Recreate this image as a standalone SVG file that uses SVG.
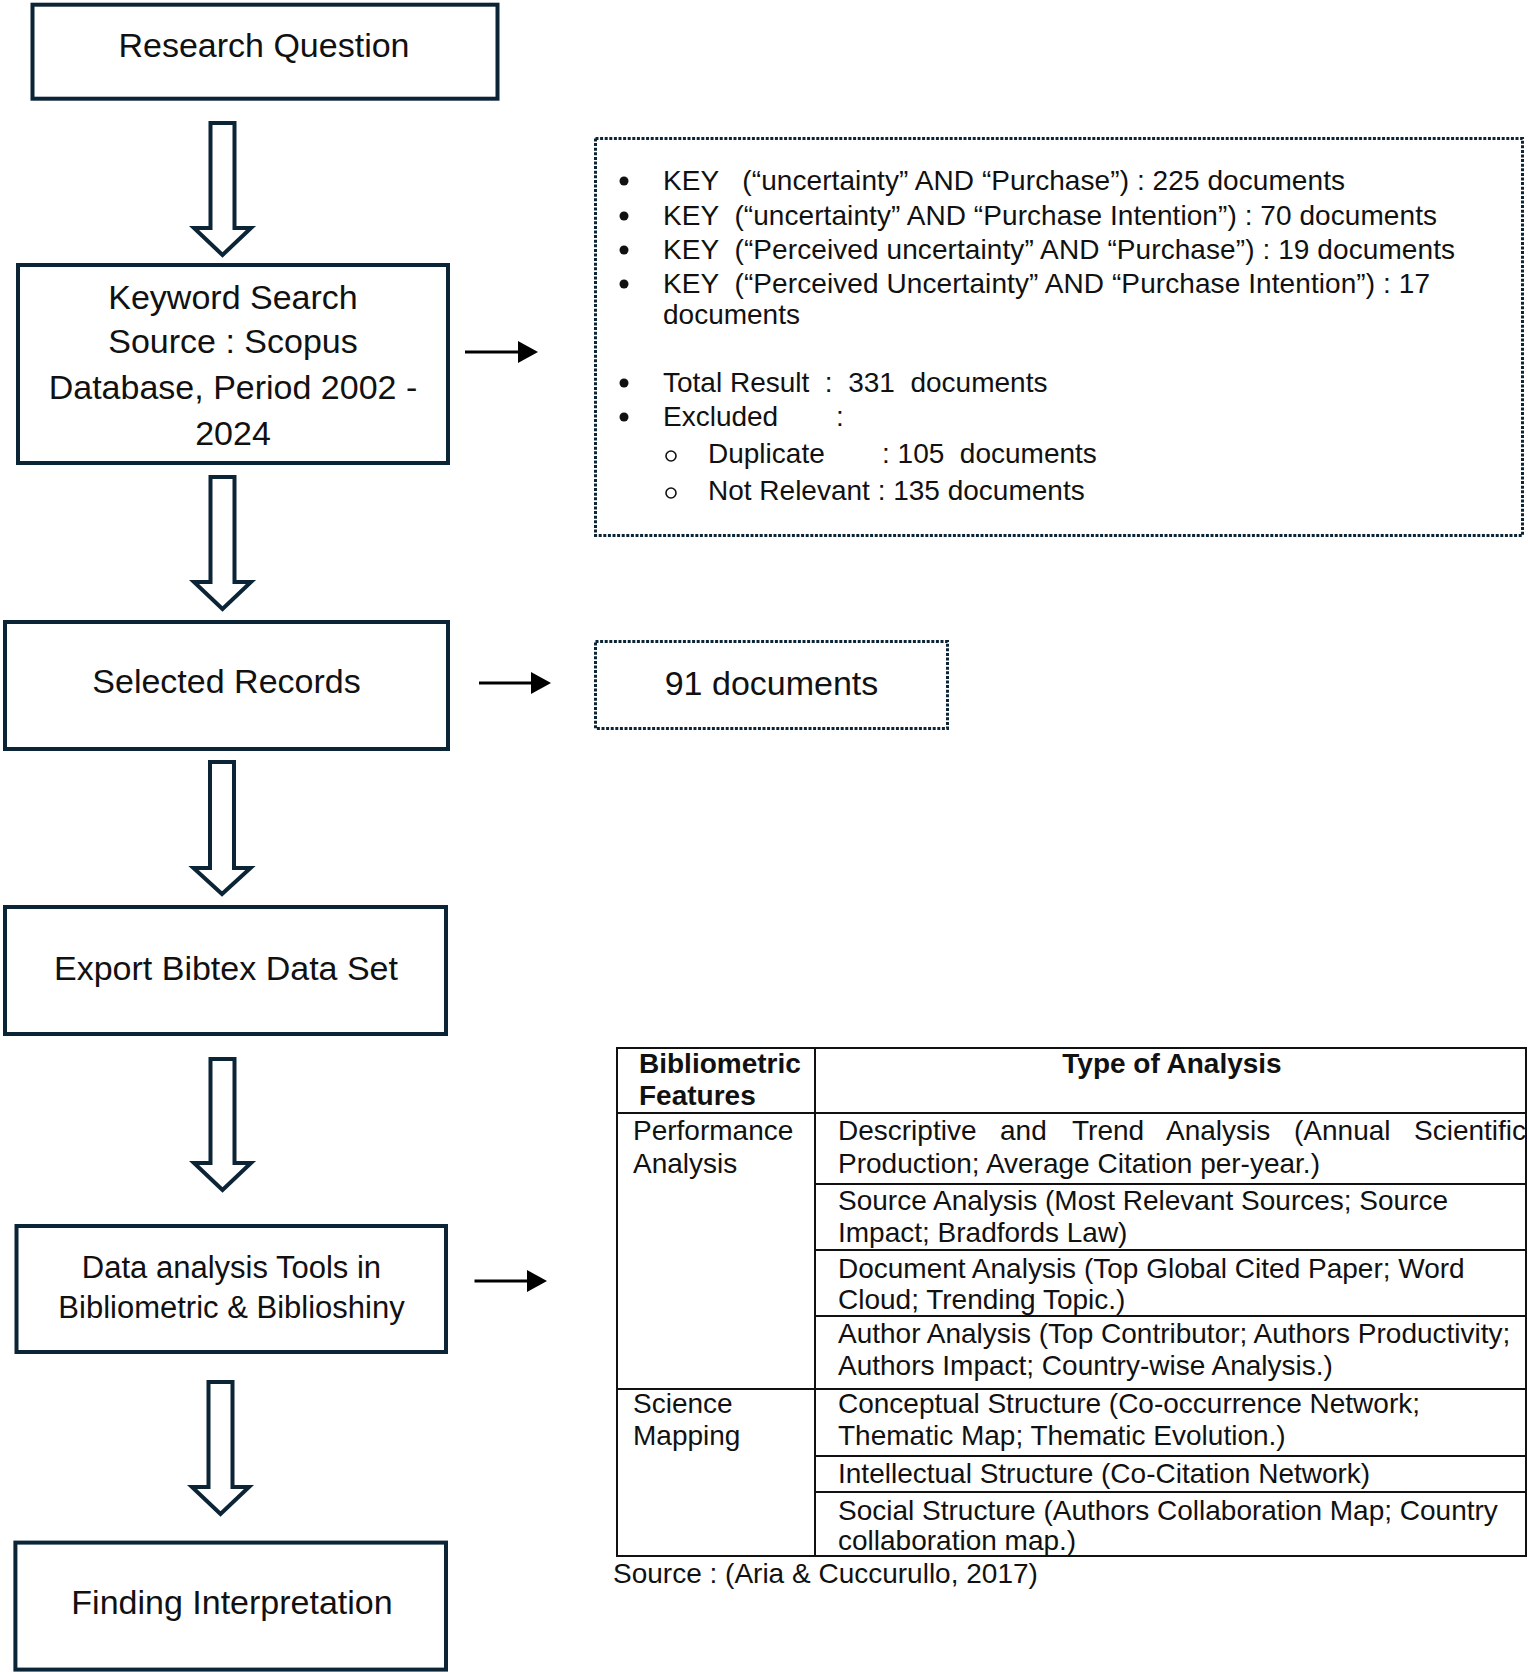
<svg xmlns="http://www.w3.org/2000/svg" width="1528" height="1672" viewBox="0 0 1528 1672">
<style>
.box{fill:#fff;stroke:#0b2536;stroke-width:4}
.dbox{fill:#fff;stroke:#0b2536;stroke-width:3;stroke-dasharray:3 1.6}
.blk{fill:#fff;stroke:#0b2536;stroke-width:4;stroke-linejoin:miter}
.ln{stroke:#000;stroke-width:3}
.hd{fill:#000}
.t{font-family:"Liberation Sans",Arial,sans-serif;fill:#111}
.big{font-size:34px;text-anchor:middle}
.s28{font-size:28px;white-space:pre}
.b{font-weight:bold}
.tl{stroke:#111;stroke-width:2;fill:none}
</style>
<rect width="1528" height="1672" fill="#fff"/>
<g id="connectors">
<path class="blk" d="M210.5,123 H234.5 V228 H251 L222.5,255 L194,228 H210.5 Z"/>
<path class="blk" d="M210.5,477 H234.5 V582 H251 L222.5,609 L194,582 H210.5 Z"/>
<path class="blk" d="M210,762 H234 V868 H250.5 L222,894 L193.5,868 H210 Z"/>
<path class="blk" d="M210.5,1059 H234.5 V1163 H251 L222.5,1190 L194,1163 H210.5 Z"/>
<path class="blk" d="M208.5,1382 H232.5 V1487 H249 L220.5,1514 L192,1487 H208.5 Z"/>
<line class="ln" x1="465" y1="352" x2="522" y2="352"/>
<polygon class="hd" points="518,341 538,352 518,363"/>
<line class="ln" x1="479" y1="683" x2="535" y2="683"/>
<polygon class="hd" points="531,672 551,683 531,694"/>
<line class="ln" x1="474.5" y1="1281" x2="531" y2="1281"/>
<polygon class="hd" points="527,1270 547,1281 527,1292"/>
</g>
<g id="research-question">
<rect class="box" x="32.5" y="4.7" width="465" height="94"/>
<text class="t big" x="264" y="57">Research Question</text>
</g>
<g id="keyword-search">
<rect class="box" x="18" y="265" width="430" height="198"/>
<text class="t big" x="233" y="309">Keyword Search</text>
<text class="t big" x="233" y="353">Source : Scopus</text>
<text class="t big" x="233" y="399">Database, Period 2002 -</text>
<text class="t big" x="233" y="445">2024</text>
</g>
<g id="search-details">
<rect class="dbox" x="595.5" y="138.5" width="927" height="397"/>
<circle cx="624" cy="181" r="4.5" fill="#111"/>
<circle cx="624" cy="216" r="4.5" fill="#111"/>
<circle cx="624" cy="250" r="4.5" fill="#111"/>
<circle cx="624" cy="284" r="4.5" fill="#111"/>
<circle cx="624" cy="383" r="4.5" fill="#111"/>
<circle cx="624" cy="417" r="4.5" fill="#111"/>
<circle cx="671" cy="456" r="5" fill="none" stroke="#111" stroke-width="1.6"/>
<circle cx="671" cy="493" r="5" fill="none" stroke="#111" stroke-width="1.6"/>
<text class="t s28" x="663" y="190" textLength="682">KEY   (“uncertainty” AND “Purchase”) : 225 documents</text>
<text class="t s28" x="663" y="225" textLength="774">KEY  (“uncertainty” AND “Purchase Intention”) : 70 documents</text>
<text class="t s28" x="663" y="259" textLength="792">KEY  (“Perceived uncertainty” AND “Purchase”) : 19 documents</text>
<text class="t s28" x="663" y="293" textLength="767">KEY  (“Perceived Uncertainty” AND “Purchase Intention”) : 17</text>
<text class="t s28" x="663" y="324">documents</text>
<text class="t s28" x="663" y="392">Total Result  :  331  documents</text>
<text class="t s28" x="663" y="426">Excluded<tspan x="836">:</tspan></text>
<text class="t s28" x="708" y="463">Duplicate<tspan x="882">: 105  documents</tspan></text>
<text class="t s28" x="708" y="500">Not Relevant : 135 documents</text>
</g>
<g id="selected-records">
<rect class="box" x="5" y="622" width="443" height="127"/>
<text class="t big" x="226.5" y="693">Selected Records</text>
</g>
<g id="documents-91">
<rect class="dbox" x="595.5" y="641.5" width="352" height="87"/>
<text class="t big" x="771.5" y="695">91 documents</text>
</g>
<g id="export-bibtex">
<rect class="box" x="5" y="907" width="441" height="127"/>
<text class="t big" x="226" y="980">Export Bibtex Data Set</text>
</g>
<g id="data-analysis-tools">
<rect class="box" x="16.5" y="1226" width="429.5" height="126"/>
<text class="t" x="231.5" y="1278" font-size="31" text-anchor="middle">Data analysis Tools in</text>
<text class="t" x="231.5" y="1318" font-size="31" text-anchor="middle">Bibliometric &amp; Biblioshiny</text>
</g>
<g id="finding-interpretation">
<rect class="box" x="15.4" y="1542.6" width="430.6" height="127"/>
<text class="t big" x="232" y="1614">Finding Interpretation</text>
</g>
<g id="analysis-table">
<rect class="tl" x="617" y="1048" width="909" height="508"/>
<line class="tl" x1="815" y1="1048" x2="815" y2="1556"/>
<line class="tl" x1="617" y1="1113" x2="1526" y2="1113"/>
<line class="tl" x1="815" y1="1184" x2="1526" y2="1184"/>
<line class="tl" x1="815" y1="1250" x2="1526" y2="1250"/>
<line class="tl" x1="815" y1="1316" x2="1526" y2="1316"/>
<line class="tl" x1="617" y1="1389" x2="1526" y2="1389"/>
<line class="tl" x1="815" y1="1456" x2="1526" y2="1456"/>
<line class="tl" x1="815" y1="1492" x2="1526" y2="1492"/>
<text class="t s28 b" x="639" y="1073">Bibliometric</text>
<text class="t s28 b" x="639" y="1105">Features</text>
<text class="t s28 b" x="1172" y="1073" text-anchor="middle">Type of Analysis</text>
<text class="t s28" x="633" y="1140">Performance</text>
<text class="t s28" x="633" y="1173">Analysis</text>
<text class="t s28" x="633" y="1413">Science</text>
<text class="t s28" x="633" y="1445">Mapping</text>
<text class="t s28" y="1140"><tspan x="838">Descriptive</tspan><tspan x="1000">and</tspan><tspan x="1072">Trend</tspan><tspan x="1166">Analysis</tspan><tspan x="1294">(Annual</tspan><tspan x="1414">Scientific</tspan></text>
<text class="t s28" x="838" y="1173">Production; Average Citation per-year.)</text>
<text class="t s28" x="838" y="1210">Source Analysis (Most Relevant Sources; Source</text>
<text class="t s28" x="838" y="1242">Impact; Bradfords Law)</text>
<text class="t s28" x="838" y="1278">Document Analysis (Top Global Cited Paper; Word</text>
<text class="t s28" x="838" y="1309">Cloud; Trending Topic.)</text>
<text class="t s28" x="838" y="1343">Author Analysis (Top Contributor; Authors Productivity;</text>
<text class="t s28" x="838" y="1375">Authors Impact; Country-wise Analysis.)</text>
<text class="t s28" x="838" y="1413">Conceptual Structure (Co-occurrence Network;</text>
<text class="t s28" x="838" y="1445">Thematic Map; Thematic Evolution.)</text>
<text class="t s28" x="838" y="1483">Intellectual Structure (Co-Citation Network)</text>
<text class="t s28" x="838" y="1520">Social Structure (Authors Collaboration Map; Country</text>
<text class="t s28" x="838" y="1550">collaboration map.)</text>
<text class="t s28" x="613" y="1583">Source : (Aria &amp; Cuccurullo, 2017)</text>
</g>
</svg>
